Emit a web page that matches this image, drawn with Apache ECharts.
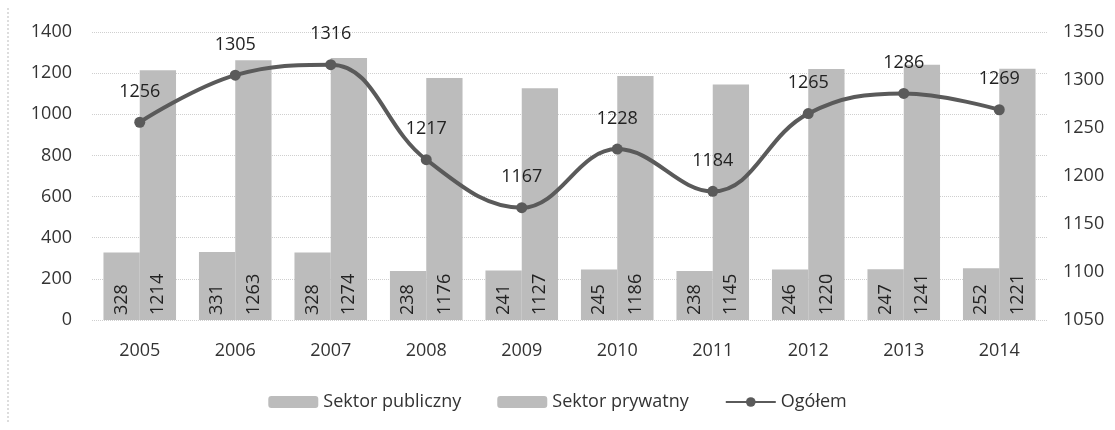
<!DOCTYPE html>
<html>
<head>
<meta charset="utf-8">
<script src="https://cdn.jsdelivr.net/npm/echarts@6/dist/echarts.min.js"></script>
<style>
  html, body { margin: 0; padding: 0; background: #fff; }
  #chart { width: 1115px; height: 430px; }
</style>
</head>
<body>
<div id="chart"></div>
<script>
// lata i wartości
const years = ["2005", "2006", "2007", "2008", "2009", "2010", "2011", "2012", "2013", "2014"];
const publiczny = [328, 331, 328, 238, 241, 245, 238, 246, 247, 252];
const prywatny = [1214, 1263, 1274, 1176, 1127, 1186, 1145, 1220, 1241, 1221];
const ogolem = [1256, 1305, 1316, 1217, 1167, 1228, 1184, 1265, 1286, 1269];

const chart = echarts.init(document.getElementById("chart"));
const font = "'Open Sans', 'DejaVu Sans', sans-serif";
const barColor = "#bcbcbc";
const plain = v => String(v);

// etykiety wewnątrz słupków, obrócone pionowo
const barLabel = {
  show: true,
  position: "insideBottom",
  rotate: 90,
  align: "left",
  verticalAlign: "middle",
  distance: 5,
  color: "#222",
  fontSize: 18,
  fontFamily: font
};

chart.setOption({
  animation: false,
  textStyle: { fontFamily: font },
  grid: { left: 92, right: 68, top: 32, bottom: 110 },
  graphic: [{
    type: "line",
    shape: { x1: 8, y1: 8, x2: 8, y2: 422 },
    style: { stroke: "#bbb", lineDash: [2, 2], lineWidth: 1 }
  }],
  legend: {
    bottom: 14,
    left: "center",
    itemWidth: 50,
    itemHeight: 12,
    itemGap: 36,
    textStyle: { fontSize: 18, color: "#333", fontFamily: font },
    data: ["Sektor publiczny", "Sektor prywatny", "Ogółem"]
  },
  xAxis: {
    type: "category",
    data: years,
    axisLine: { show: false },
    axisTick: { show: false },
    axisLabel: { color: "#333", fontSize: 18, margin: 22 }
  },
  yAxis: [
    {
      type: "value",
      min: 0,
      max: 1400,
      interval: 200,
      axisLabel: { color: "#333", fontSize: 18, margin: 20, formatter: plain },
      splitLine: { lineStyle: { color: "#cfcfcf", type: "dotted" } }
    },
    {
      type: "value",
      min: 1050,
      max: 1350,
      interval: 50,
      axisLabel: { color: "#333", fontSize: 18, margin: 16, formatter: plain },
      splitLine: { show: false }
    }
  ],
  series: [
    {
      name: "Sektor publiczny",
      type: "bar",
      data: publiczny,
      barGap: "0%",
      barCategoryGap: "24%",
      itemStyle: { color: barColor },
      label: barLabel
    },
    {
      name: "Sektor prywatny",
      type: "bar",
      data: prywatny,
      itemStyle: { color: barColor },
      label: barLabel
    },
    {
      name: "Ogółem",
      type: "line",
      yAxisIndex: 1,
      data: ogolem,
      smooth: 0.4,
      symbol: "circle",
      symbolSize: 11,
      lineStyle: { color: "#5a5a5a", width: 4 },
      itemStyle: { color: "#5a5a5a" },
      label: {
        show: true,
        position: "top",
        distance: 16,
        color: "#222",
        fontSize: 18,
        fontFamily: font
      },
      z: 5
    }
  ]
});
</script>
</body>
</html>
